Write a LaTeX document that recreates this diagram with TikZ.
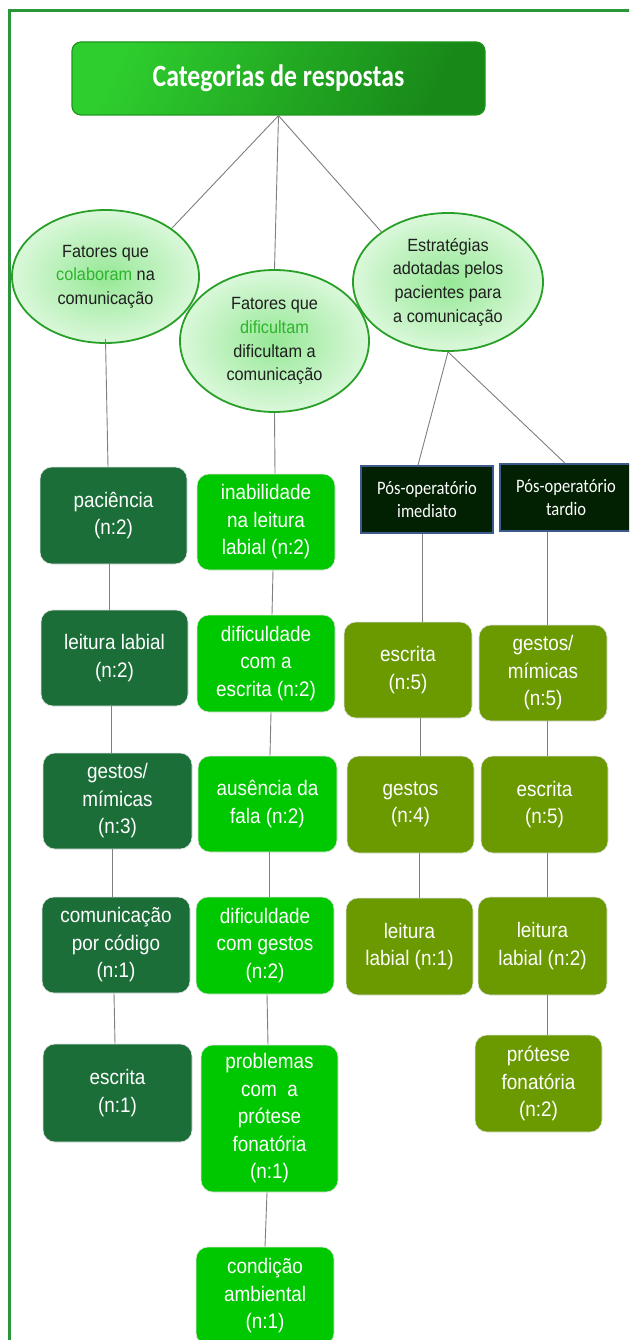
\documentclass[tikz,border=0pt]{standalone}
\usepackage{fontspec}
\setmainfont{Liberation Sans}
\newfontfamily\boxfont{Liberation Sans}[FakeStretch=0.9]
\newfontfamily\ellfont{Liberation Sans}[FakeStretch=0.92]
\newfontfamily\titlefont{Carlito}[FakeStretch=0.83]
\newfontfamily\posfont{Carlito}[FakeStretch=0.87]
\usetikzlibrary{shapes.geometric}
\definecolor{framegreen}{RGB}{42,150,58}
\definecolor{darkbox}{RGB}{27,110,56}
\definecolor{brightbox}{RGB}{0,200,0}
\definecolor{olivebox}{RGB}{106,154,0}
\definecolor{posfill}{RGB}{2,32,2}
\definecolor{posborder}{RGB}{60,90,140}
\definecolor{ellborder}{RGB}{40,160,40}
\definecolor{ellin}{RGB}{150,232,150}
\definecolor{ellout}{RGB}{218,248,218}
\definecolor{hl}{RGB}{45,180,45}
\definecolor{conncol}{RGB}{125,128,125}
\definecolor{titleA}{RGB}{46,206,46}
\definecolor{titleB}{RGB}{24,136,24}
\definecolor{titleedge}{RGB}{30,150,30}
\begin{document}
\begin{tikzpicture}[x=1pt,y=-1pt,
  connector/.style={draw=conncol, line width=0.9pt},
  wh/.style 2 args={minimum width=#1pt, minimum height=#2pt},
  catbox/.style={rectangle, rounded corners=12pt, draw=white!78!gray, line width=0.6pt,
    text=white, align=center, inner sep=0pt, font=\boxfont\fontsize{21}{27.5}\selectfont},
  colA/.style={catbox, fill=darkbox},
  colB/.style={catbox, fill=brightbox},
  colC/.style={catbox, fill=olivebox},
  ellnode/.style={ellipse, draw=ellborder, line width=1.8pt, inner color=ellin, outer color=ellout,
    align=center, inner sep=0pt, text=black!88, font=\ellfont\fontsize{17.7}{23.7}\selectfont},
  posbox/.style={rectangle, fill=posfill, draw=posborder, line width=1.6pt, text=white,
    align=center, inner sep=0pt, font=\posfont\fontsize{19}{22.3}\selectfont},
  titlebox/.style={rectangle, rounded corners=9pt, draw=titleedge, line width=1.2pt,
    left color=titleA, right color=titleB, shading angle=65, text=white,
    font=\titlefont\bfseries\fontsize{31}{36}\selectfont}
]
\useasboundingbox (0,0) rectangle (629,1340);
\clip (0,0) rectangle (629,1340);
\fill[white] (0,0) rectangle (629,1340);
\draw[framegreen, line width=3pt] (9.5,10.5) rectangle (700,1400);

% title
\node[titlebox, wh={413}{73}] (title) at (278.5,78.5) {Categorias de respostas};

% ellipses
\node[ellnode, wh={187}{133}] (e1) at (105.5,276.5) {Fatores que\\{\color{hl}colaboram} na\\comunicação};
\node[ellnode, wh={189}{142}] (e2) at (274.5,341) {Fatores que\\{\color{hl}dificultam}\\dificultam a\\comunicação};
\node[ellnode, wh={190}{138}] (e3) at (448,282) {Estratégias\\adotadas pelos\\pacientes para\\a comunicação};

% column 1
\node[colA, wh={147}{97}] (c1a) at (113.5,515.5) {paciência\\(n:2)};
\node[colA, wh={147}{96}] (c1b) at (114.5,658) {leitura labial\\(n:2)};
\node[colA, wh={149}{96}] (c1c) at (117.5,801) {gestos/\\mímicas\\(n:3)};
\node[colA, wh={148}{96}] (c1d) at (116,945) {comunicação\\por código\\(n:1)};
\node[colA, wh={149}{98}] (c1e) at (117.5,1093) {escrita\\(n:1)};

% column 2
\node[colB, wh={138}{96}] (c2a) at (266,522) {inabilidade\\na leitura\\labial (n:2)};
\node[colB, wh={138}{97}] (c2b) at (266,663.5) {dificuldade\\com a\\escrita (n:2)};
\node[colB, wh={139}{96}] (c2c) at (267.5,804) {ausência da\\fala (n:2)};
\node[colB, wh={138}{97}] (c2d) at (265,945.5) {dificuldade\\com gestos\\(n:2)};
\node[colB, wh={137}{147}] (c2e) at (269.5,1118.5) {problemas\\com\ \ a\\prótese\\fonatória\\(n:1)};
\node[colB, wh={138}{98}] (c2f) at (265,1296) {condição\\ambiental\\(n:1)};

% post-operative headers
\node[posbox, wh={132}{67}] (p1) at (427,499.5) {Pós-operatório\\imediato};
\node[posbox, wh={132}{67}] (p2) at (566,497.5) {Pós-operatório\\tardio};

% column 3
\node[colC, wh={128}{96}] (c3a) at (408,670) {escrita\\(n:5)};
\node[colC, wh={127}{97}] (c3b) at (410.5,804.5) {gestos\\(n:4)};
\node[colC, wh={127}{97}] (c3c) at (409.5,946.5) {leitura\\labial (n:1)};

% column 4
\node[colC, wh={128}{96}] (c4a) at (543,673) {gestos/\\mímicas\\(n:5)};
\node[colC, wh={127}{97}] (c4b) at (544.5,804.5) {escrita\\(n:5)};
\node[colC, wh={129}{98}] (c4c) at (542.5,946) {leitura\\labial (n:2)};
\node[colC, wh={127}{97}] (c4d) at (538.5,1083.5) {prótese\\fonatória\\(n:2)};

% connectors
\draw[connector] (title.south) -- (e1.36);
\draw[connector] (title.south) -- (e2.north);
\draw[connector] (title.south) -- (e3.143);

\draw[connector] ([yshift=5pt]e1.south) -- ([xshift=-5.5pt]c1a.north);
\draw[connector] ([xshift=-4.5pt]c1a.south) -- ([xshift=-5.5pt]c1b.north);
\draw[connector] ([xshift=-3.5pt]c1b.south) -- ([xshift=-6.5pt]c1c.north);
\draw[connector] ([xshift=-5.5pt]c1c.south) -- ([xshift=-4pt]c1d.north);
\draw[connector] ([xshift=-2pt]c1d.south) -- ([xshift=-2.5pt]c1e.north);

\draw[connector] (e2.south) -- ([xshift=9pt]c2a.north);
\draw[connector] ([xshift=7pt]c2a.south) -- ([xshift=6pt]c2b.north);
\draw[connector] ([xshift=5pt]c2b.south) -- ([xshift=2.5pt]c2c.north);
\draw[connector] ([xshift=1.5pt]c2c.south) -- ([xshift=4pt]c2d.north);
\draw[connector] ([xshift=2pt]c2d.south) -- ([xshift=-1.5pt]c2e.north);
\draw[connector] ([xshift=-2.5pt]c2e.south) -- (c2f.north);

\draw[connector] (e3.south) -- ([xshift=-9pt]p1.north);
\draw[connector] (e3.south) -- ([xshift=-1pt]p2.north);
\draw[connector] ([xshift=-5pt]p1.south) -- ([xshift=14pt]c3a.north);
\draw[connector] ([xshift=12pt]c3a.south) -- ([xshift=9.5pt]c3b.north);
\draw[connector] ([xshift=8.5pt]c3b.south) -- ([xshift=9.5pt]c3c.north);

\draw[connector] ([xshift=-19pt]p2.south) -- ([xshift=4pt]c4a.north);
\draw[connector] ([xshift=4pt]c4a.south) -- ([xshift=2.5pt]c4b.north);
\draw[connector] ([xshift=2.5pt]c4b.south) -- ([xshift=4.5pt]c4c.north);
\draw[connector] ([xshift=4.5pt]c4c.south) -- ([xshift=8.5pt]c4d.north);
\end{tikzpicture}
\end{document}
